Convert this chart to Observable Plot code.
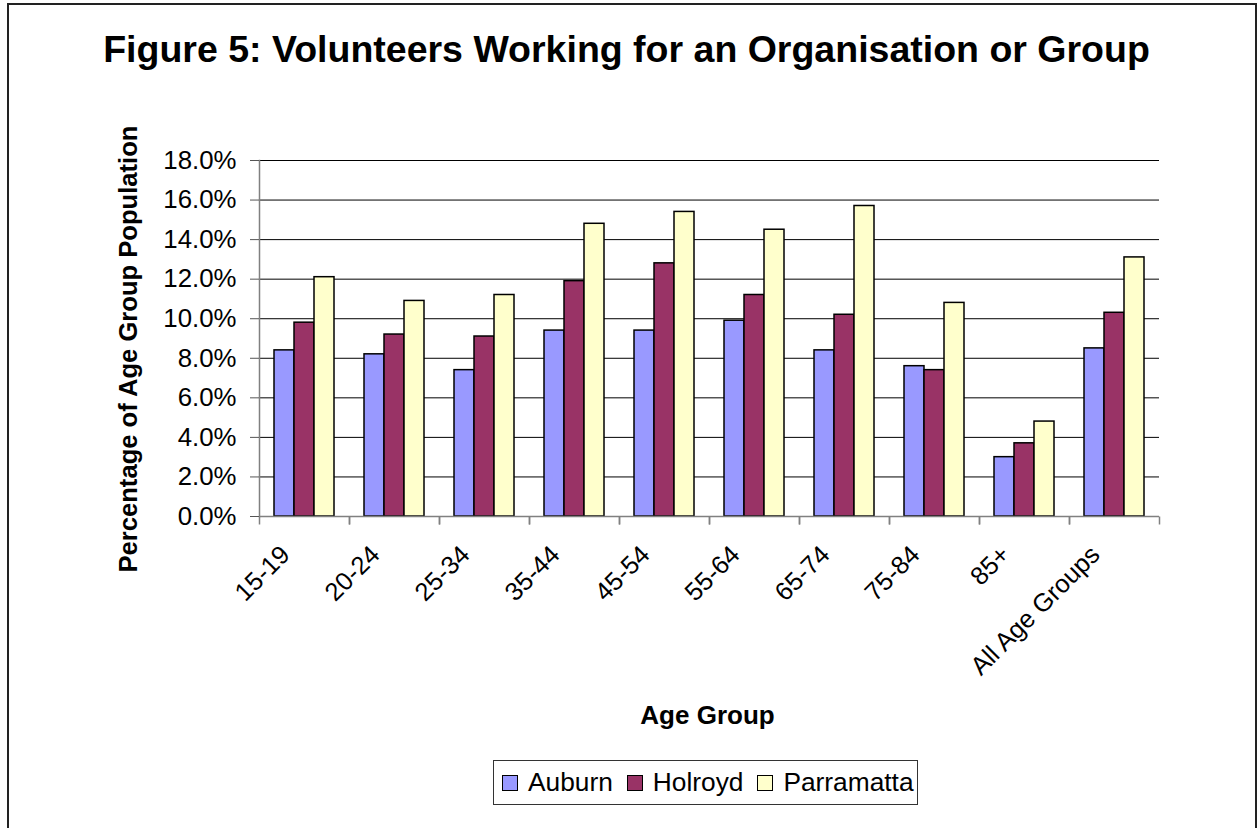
<!DOCTYPE html>
<html>
<head>
<meta charset="utf-8">
<script src="https://cdn.jsdelivr.net/npm/d3@7"></script>
<script src="https://cdn.jsdelivr.net/npm/@observablehq/plot@0.6"></script>
<style>
  html, body { margin: 0; padding: 0; background: #fff; overflow: hidden; width: 1259px; height: 828px; }
  body { font-family: "Liberation Sans", Arial, sans-serif; color: #000; position: relative; }
  #border { position: absolute; left: 7px; top: 3px; width: 1246px; height: 900px; border: 2px solid #222; box-sizing: content-box; }
  #title { position: absolute; left: 0; top: 31px; width: 1253px; text-align: center; font-weight: bold; font-size: 37.5px; line-height: 37px; white-space: nowrap; }
  #ytitle { position: absolute; left: 128px; top: 349px; transform: translate(-50%, -50%) rotate(-90deg); font-weight: bold; font-size: 25.6px; line-height: 26px; white-space: nowrap; }
  #xtitle { position: absolute; left: 0; width: 1415px; top: 702px; text-align: center; font-weight: bold; font-size: 26px; line-height: 26px; white-space: nowrap; }
  #chart { position: absolute; left: 0; top: 100px; }
  #legend { position: absolute; left: 493px; top: 760px; width: 425px; height: 45px; box-sizing: border-box; border: 1.5px solid #333; display: flex; align-items: center; padding-left: 8px; font-size: 26.3px; background: #fff; }
  #legend .item { display: flex; align-items: center; margin-right: 14px; }
  #legend .sw { width: 16px; height: 16px; box-sizing: border-box; border: 1.5px solid #000; margin-right: 10px; }
</style>
</head>
<body>
<div id="border"></div>
<div id="title">Figure 5: Volunteers Working for an Organisation or Group</div>
<div id="ytitle">Percentage of Age Group Population</div>
<div id="chart"></div>
<div id="xtitle">Age Group</div>
<div id="legend"></div>
<script>
// ---- data ----
const categories = ["15-19", "20-24", "25-34", "35-44", "45-54", "55-64", "65-74", "75-84", "85+", "All Age Groups"];
const series = ["Auburn", "Holroyd", "Parramatta"];
const auburn =     [8.4, 8.2, 7.4,  9.4,  9.4,  9.9,  8.4,  7.6, 3.0,  8.5];
const holroyd =    [9.8, 9.2, 9.1, 11.9, 12.8, 11.2, 10.2,  7.4, 3.7, 10.3];
const parramatta = [12.1, 10.9, 11.2, 14.8, 15.4, 14.5, 15.7, 10.8, 4.8, 13.1];
const yTicks = [0, 2, 4, 6, 8, 10, 12, 14, 16, 18];
const colors = ["#9999FF", "#993366", "#FFFFCC"];

const seriesValues = [auburn, holroyd, parramatta];
const data = categories.flatMap((c, i) =>
  series.map((s, j) => ({category: c, series: s, value: seriesValues[j][i]}))
);

// small vertical tick used for category boundary marks
const tickSymbol = {
  draw(ctx, size) {
    const l = Math.sqrt(size / Math.PI);
    ctx.moveTo(0, 0);
    ctx.lineTo(0, l);
  }
};

const chart = Plot.plot({
  width: 1259,
  height: 600,
  marginTop: 60,
  marginBottom: 184,
  marginLeft: 258,
  marginRight: 99,
  style: {fontFamily: "'Liberation Sans', Arial, sans-serif", fontSize: "25.5px", background: "transparent", color: "#000", overflow: "visible"},
  fx: {domain: categories, padding: 0, label: null},
  x: {domain: series, paddingInner: 0, paddingOuter: 0.75, axis: null},
  y: {domain: [0, 18], axis: null},
  color: {domain: series, range: colors},
  marks: [
    Plot.gridY(yTicks, {stroke: "#000", strokeOpacity: 1, strokeWidth: 1}),
    Plot.barY(data, {fx: "category", x: "series", y: "value", fill: "series", stroke: "#000", strokeWidth: 1.5}),
    Plot.ruleY([0], {stroke: "#808080", strokeWidth: 1.5}),
    Plot.frame({anchor: "left", stroke: "#808080", strokeWidth: 1.5, facetAnchor: "left"}),
    Plot.dot([0], {frameAnchor: "bottom-left", symbol: tickSymbol, r: 8, stroke: "#808080", strokeWidth: 1.5, fill: "none"}),
    Plot.dot([0], {frameAnchor: "bottom-right", symbol: tickSymbol, r: 8, stroke: "#808080", strokeWidth: 1.5, fill: "none"}),
    Plot.axisY({ticks: yTicks, tickFormat: d => d.toFixed(1) + "%", tickSize: 9, tickPadding: 14, fontSize: 25.8, stroke: "#555", label: null}),
    Plot.axisFx({anchor: "bottom", tickRotate: -45, tickSize: 0, tickPadding: 34, dx: -19, fontSize: 25.5, label: null})
  ]
});
document.getElementById("chart").appendChild(chart);

// legend
const legend = document.getElementById("legend");
series.forEach((s, i) => {
  const item = document.createElement("div");
  item.className = "item";
  const sw = document.createElement("div");
  sw.className = "sw";
  sw.style.background = colors[i];
  const label = document.createElement("span");
  label.textContent = s;
  item.appendChild(sw);
  item.appendChild(label);
  legend.appendChild(item);
});
</script>
</body>
</html>
